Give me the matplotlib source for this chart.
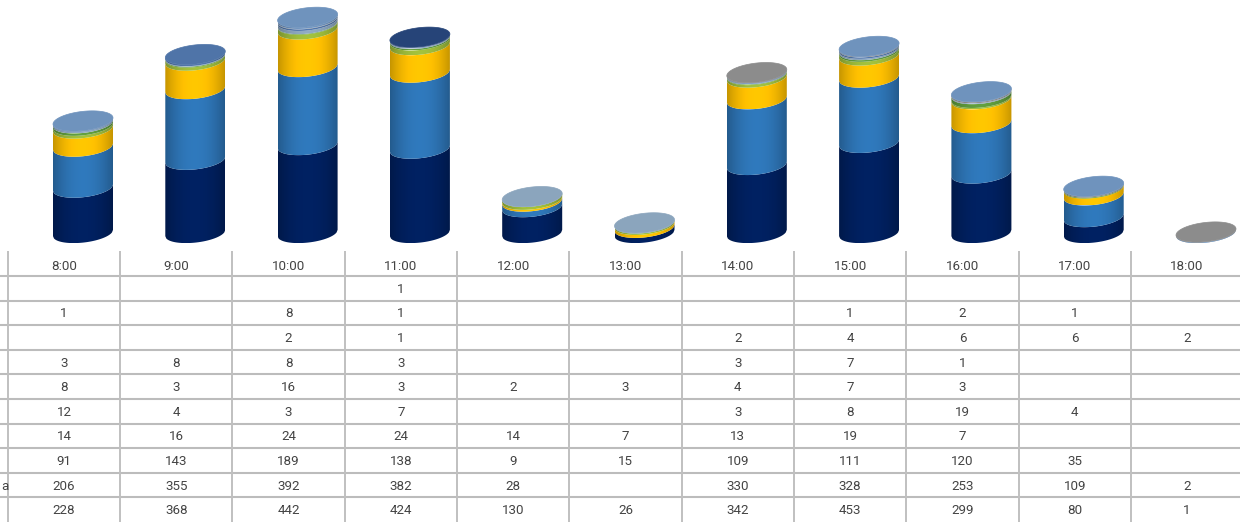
import numpy as np
import matplotlib
matplotlib.use('Agg')
import matplotlib.pyplot as plt
from matplotlib.colors import to_rgb
from matplotlib.patches import Polygon

plt.rcParams['font.family'] = ['Roboto', 'DejaVu Sans']

hours = ['8:00', '9:00', '10:00', '11:00', '12:00', '13:00', '14:00', '15:00', '16:00', '17:00', '18:00']

# table rows, top to bottom (None = empty cell)
row1 = [None, None, None, 1, None, None, None, None, None, None, None]
row2 = [1, None, 8, 1, None, None, None, 1, 2, 1, None]
row3 = [None, None, 2, 1, None, None, 2, 4, 6, 6, 2]
row4 = [3, 8, 8, 3, None, None, 3, 7, 1, None, None]
row5 = [8, 3, 16, 3, 2, 3, 4, 7, 3, None, None]
row6 = [12, 4, 3, 7, None, None, 3, 8, 19, 4, None]
row7 = [14, 16, 24, 24, 14, 7, 13, 19, 7, None, None]
row8 = [91, 143, 189, 138, 9, 15, 109, 111, 120, 35, None]
row9 = [206, 355, 392, 382, 28, None, 330, 328, 253, 109, 2]
row10 = [228, 368, 442, 424, 130, 26, 342, 453, 299, 80, 1]
rows = [row1, row2, row3, row4, row5, row6, row7, row8, row9, row10]

row_colors = ['#264478', '#6f93bd', '#8c8c8c', '#4f74a8', '#8ba5bd',
              '#5f9a3c', '#9dbb3b', '#ffc000', '#2e75b6', '#00205f']

W, H = 1240, 522
PX = 0.199      # pixels per unit
BASE = 233      # baseline, pixels from the top
STEP = 112.3    # pixels between categories
A, B, S = 30.0, 9.6, 0.105   # cylinder half width, ellipse half height, tilt

fig = plt.figure(figsize=(W / 100, H / 100), dpi=100)

# chart
ax = fig.add_axes([0, 1 - 250 / H, 1, 250 / H])
ax.axis('off')

u = np.linspace(-1, 1, 60)
ramp = 0.78 + 0.26 * (1 - u ** 2)


def lower_arc(x, h):
    return h + (S * A * x - B * np.sqrt(1 - x ** 2)) / PX


def draw_band(pos, h0, h1, color):
    # side of one stacked segment, shaded left to right
    xs = pos + u * A / STEP
    verts = np.r_[np.c_[xs, lower_arc(u, h0)], np.c_[xs[::-1], lower_arc(u, h1)[::-1]]]
    patch = Polygon(verts, closed=True, fc='none', ec='none', transform=ax.transData)
    ax.add_patch(patch)
    grad = np.clip(np.outer(ramp, to_rgb(color)), 0, 1)[None, :, :]
    y0, y1 = verts[:, 1].min(), verts[:, 1].max()
    im = ax.imshow(grad, extent=[xs[0], xs[-1], y0, y1], aspect='auto', origin='lower',
                   interpolation='bilinear', zorder=2)
    im.set_clip_path(patch)


def draw_cap(pos, h, color):
    t = np.linspace(0, 2 * np.pi, 80)
    x = np.cos(t)
    y = h + (S * A * x + B * np.sin(t)) / PX
    ax.fill(pos + x * A / STEP, y, color=color, lw=0.5, zorder=3)


for i in range(len(hours)):
    h = 0
    top_color = None
    for row, color in zip(rows[::-1], row_colors[::-1]):
        v = row[i]
        if v is None:
            continue
        draw_band(i, h, h + v, color)
        h += v
        top_color = color
    draw_cap(i, h, top_color)

ax.set_xlim(-83 / STEP, (W - 83) / STEP)
ax.set_ylim((BASE - 250) / PX, BASE / PX)

# table
tb = fig.add_axes([0, 0, 1, (H - 251.4) / H])
tb.set_xlim(-64 / STEP, (W - 64) / STEP)
tb.set_ylim(11, 0)
tb.axis('off')

for r in range(1, 11):
    tb.axhline(r, color='#bcbcbc', lw=1.5)
for c in range(len(hours)):
    tb.axvline(c - 0.5, color='#c0c0c0', lw=1.4)

for c, label in enumerate(hours):
    tb.text(c, 0.6, label, ha='center', va='center', fontsize=9.6, color='#444444')
for r, row in enumerate(rows):
    for c, v in enumerate(row):
        if v is not None:
            tb.text(c, r + 1.54, str(v), ha='center', va='center', fontsize=9.6, color='#444444')
tb.text(-0.53, 9.54, 'a', ha='center', va='center', fontsize=9.6, color='#444444')

fig.savefig('out.png', dpi=100)
